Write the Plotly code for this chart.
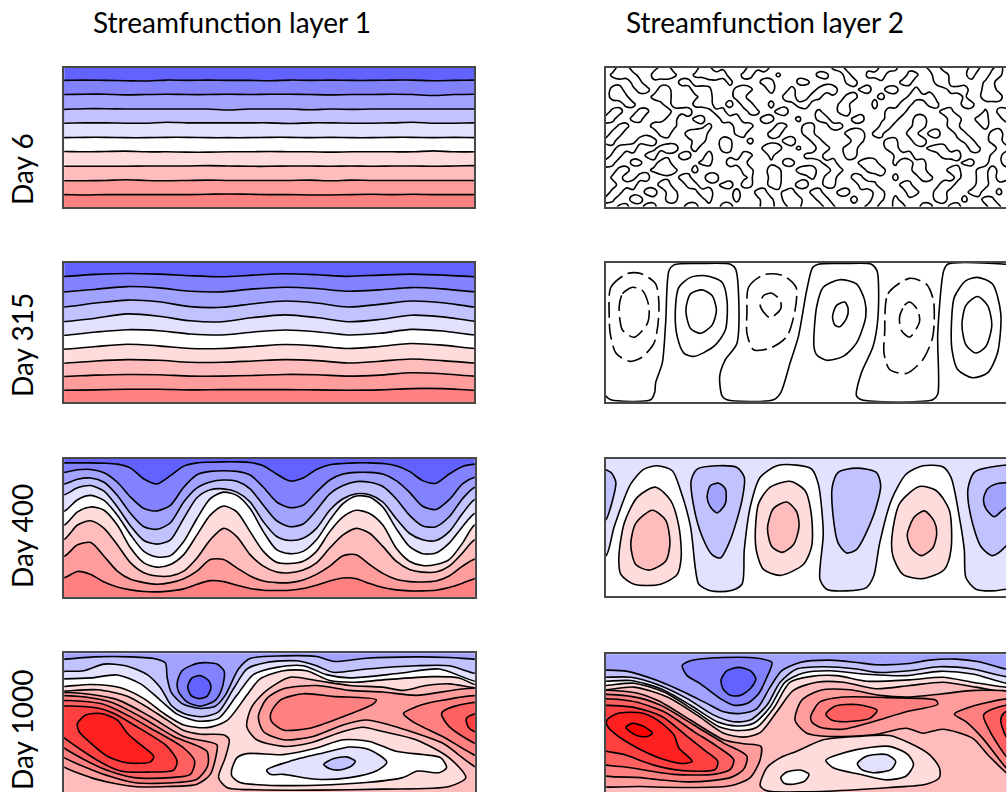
import plotly.graph_objects as go

W, H = 1007, 793
FONT = "Lato"
TITLES = ["Streamfunction layer 1", "Streamfunction layer 2"]
DAYS = ["Day 6", "Day 315", "Day 400", "Day 1000"]
BAND = {-5: "#6262ff", -4: "#8282ff", -3: "#a2a2ff", -2: "#c2c2ff", -1: "#e2e2ff", 0: "#ffffff",
        1: "#ffdcdc", 2: "#ffbcbc", 3: "#ff9c9c", 4: "#ff8080", 5: "#ff6060", 6: "#ff4040",
        7: "#ff2020", 8: "#ff0000"}

# ---- Day 6, layer 1: contour depth per line
D6_L1_X = [190,252,314,375,437,499,561,623,684,746,808,870,932,993,1055,1117,1179,1241,1302,1364,1426]
D6_L1_LINES = [
 [89,88,89,90,91,88,89,88,89,89,90,88,89,88,89,89,88,88,90,89,88],
 [132,131,131,133,132,131,132,132,131,132,131,131,132,133,132,132,131,132,135,132,131],
 [177,175,175,176,176,176,176,176,179,176,176,176,178,176,177,176,176,176,176,176,176],
 [219,218,218,219,219,216,218,218,218,218,218,220,218,218,219,219,218,216,219,219,218],
 [263,262,262,263,263,262,262,263,263,263,262,262,263,262,263,263,262,262,263,262,263],
 [305,306,305,304,306,306,307,307,306,306,305,306,306,307,306,306,306,306,303,306,306],
 [350,350,350,350,349,349,349,348,349,350,350,349,349,350,349,350,349,349,350,349,348],
 [394,394,393,391,393,394,393,392,393,393,393,393,392,394,392,393,393,393,393,393,393],
 [436,437,436,436,436,436,436,435,434,435,436,436,437,437,436,435,436,435,436,436,436],
]
# ---- Day 315, layer 1
D315_L1_X = [190,285,380,475,570,665,760,855,950,1045,1140,1235,1330,1426]
D315_L1_LINES = [
 [677,671,668,670,675,678,673,669,672,677,673,670,673,678],
 [724,716,708,712,722,724,715,710,714,722,718,711,715,724],
 [770,758,749,754,769,771,760,752,758,770,762,752,757,770],
 [814,804,791,798,812,815,802,794,802,815,808,795,800,813],
 [856,846,839,842,852,855,846,840,845,855,850,838,843,855],
 [898,890,883,888,896,896,890,884,888,896,890,881,886,896],
 [941,934,930,932,938,938,934,930,933,940,935,928,933,940],
 [981,977,975,976,980,980,978,975,976,980,977,970,973,980],
 [1023,1022,1020,1020,1022,1021,1021,1021,1022,1023,1022,1018,1018,1023],
]
# ---- Day 400, layer 1
D400_L1_X = [40,80,120,160,200,240,280,320,360,400,440,480,520,560,600,640,680,720,760,800,840,880,920,960,1000,1040,1080,1120,1160,1200,1240,1277]
D400_L1_LINES = [
 [36,36,36,37,40,52,85,100,75,46,36,34,33,33,35,45,70,91,82,56,42,38,36,36,38,45,62,90,98,70,47,40],
 [65,57,56,66,95,140,175,182,165,110,72,62,60,62,73,110,155,172,165,125,88,70,65,65,70,90,125,168,178,148,100,80],
 [100,86,82,95,135,190,230,238,218,155,112,94,88,92,115,165,212,230,222,180,130,105,93,95,108,145,195,228,230,200,145,110],
 [133,112,105,122,170,228,272,283,270,205,142,118,115,125,155,215,260,272,265,235,180,145,130,133,155,205,250,270,272,245,190,147],
 [183,148,135,150,195,255,305,322,318,275,205,145,125,135,175,245,300,312,305,270,210,160,137,140,170,235,290,312,310,280,230,190],
 [225,185,170,180,225,295,340,353,345,315,255,195,167,185,245,305,338,342,335,305,245,200,180,190,225,295,335,348,345,330,280,225],
 [268,225,212,235,285,340,370,380,380,365,325,270,235,260,315,350,368,370,362,340,295,255,235,250,290,335,360,368,368,350,310,270],
 [320,285,278,320,365,390,400,405,400,388,365,330,330,355,380,395,400,400,392,375,350,318,315,345,372,390,397,398,395,380,350,328],
 [385,366,375,398,413,422,427,428,425,419,405,394,397,408,418,423,424,423,418,408,395,386,388,403,415,422,425,425,423,415,402,388],
]
# ---- Day 1000, layer 1
D1000_L1_OPEN = [
 (-2, [(40,625),(130,618),(240,618),(320,625),(345,637),(350,680),(362,725),(395,760),(450,775),(495,768),(525,735),(565,655),(600,623),(700,615),(800,617),(855,632),(950,622),(1100,618),(1200,620),(1277,625)]),
 (-1, [(40,662),(100,660),(160,640),(225,645),(290,672),(330,712),(362,765),(400,790),(455,800),(505,785),(550,715),(590,655),(650,635),(740,630),(800,645),(850,665),(950,655),(1100,645),(1200,645),(1277,668)]),
 (0, [(40,685),(120,682),(200,673),(270,700),(330,750),(380,792),(440,813),(505,805),(560,735),(610,672),(680,650),(760,645),(830,672),(900,682),(1050,668),(1170,655),(1277,692)]),
 (1, [(40,708),(120,702),(210,712),(280,745),(340,790),(400,825),(470,833),(530,812),(590,735),(630,685),(700,660),(770,660),(840,690),(920,695),(1000,688),(1150,678),(1230,682),(1277,702)]),
 (2, [(40,722),(140,718),(230,738),(320,790),(400,842),(450,853),(520,855),(537,870),(525,925),(505,985),(530,1015),(620,1022),(800,1023),(1000,1020),(1200,1012),(1250,985),(1200,925),(1100,870),(1000,845),(940,832),(880,845),(780,880),(700,890),(620,870),(590,830),(605,770),(650,720),(720,680),(800,690),(900,705),(1000,710),(1060,720),(1130,705),(1200,700),(1277,712)]),
]
D1000_L1_LOOPS = [
 (-4, [(380,700),(395,660),(445,637),(500,640),(522,662),(515,715),(495,750),(450,768),(410,755),(385,725)]),
 (-5, [(412,708),(425,682),(450,675),(475,690),(482,712),(470,738),(445,745),(422,735)]),
 (3, [(0,737),(190,745),(300,800),(400,860),(500,885),(500,905),(480,975),(440,1005),(350,1012),(250,1012),(120,985),(0,925)]),
 (3, [(625,800),(650,745),(700,715),(800,705),(900,720),(1000,725),(1100,735),(1310,722),(1310,965),(1180,880),(1100,850),(1020,825),(950,810),(880,825),(790,860),(700,870),(640,845)]),
 (4, [(662,790),(690,750),(760,730),(850,738),(980,748),(970,762),(880,800),(780,835),(700,840),(665,815)]),
 (4, [(1310,742),(1180,750),(1100,770),(1062,790),(1090,815),(1180,860),(1310,925)]),
 (5, [(1310,760),(1210,770),(1177,790),(1200,830),(1310,890)]),
 (6, [(1310,785),(1252,805),(1260,835),(1310,855)]),
 (4, [(0,745),(170,752),(270,800),(370,860),(470,905),(472,950),(440,990),(380,1000),(250,1000),(120,960),(0,895)]),
 (5, [(0,760),(150,760),(230,795),(300,835),(400,895),(433,935),(420,975),(360,985),(250,985),(150,955),(0,860)]),
 (6, [(0,775),(130,772),(190,790),(250,825),(350,890),(380,935),(370,962),(300,968),(210,965),(120,920),(0,825)]),
 (7, [(80,820),(105,795),(150,790),(200,810),(230,850),(270,885),(310,920),(300,937),(230,940),(170,920),(120,880),(85,845)]),
 (0, [(545,960),(560,925),(590,912),(700,915),(800,895),(880,870),(960,875),(1040,905),(1120,915),(1175,925),(1192,955),(1170,970),(1105,965),(1060,985),(950,1000),(800,1008),(650,1008),(570,1000),(545,980)]),
 (-1, [(650,962),(720,935),(820,910),(900,892),(960,900),(1012,938),(980,965),(900,985),(800,990),(700,975),(660,975)]),
 (-2, [(822,945),(850,928),(890,922),(917,935),(905,950),(870,962),(840,958)]),
]
# ---- Day 6, layer 2: streamfunction read on a coarse grid (single contour at 4.5)
D6_L2_FIELD = [
 "21780312670231860312097830120321068102317960213680231760381",
 "16897207986016798820770216103027602810679120760389203810870",
 "31207603120871023170213770216720310680213017702179301206701",
 "07813770871028960217860280271027891026802870170213689027820",
 "08960217890123780218702310790286031780137021687920316029780",
 "20176120381207790280870170237820316702170218702760218701320",
 "07802760318790127702176027801236026802132789021037701206078",
 "87017702167026701789012870136027701268013780178012790278028",
 "21670127986012370218970217602760387031207801377021860137120",
 "07802130780278930216701278012760310789076021760780176021790",
 "78012897021236802760270031790167021087013760288021036702780",
 "12789013789028021760210789026018802890132780123678031760178",
 "06702168031770280231760170210678021770213068902137980231670",
 "87017602780213670187902130770213780217980260187021036702870",
 "21780136897027012310770287017890177021679021378012870168078",
 "06802870231770197012360178021360780176023170237702180167087",
 "21789021780177023680760277018702760217960217702138902178021",
 "07702178067013890218017703680177027703167021870278012780170",
 "76018702167021370217023760778027702180276071302178017027602",
 "21670287021378021780213780376021760213670178027701780213760",
]
# ---- Day 315, layer 2
D315_L2_ZERO = [(44,440),(60,452),(180,452),(192,430),(195,400),(215,340),(225,220),(235,60),(250,42),(330,38),(420,40),(436,55),(440,280),(405,330),(388,380),(395,440),(410,452),(550,452),(572,430),(600,340),(625,260),(650,120),(668,50),(685,40),(760,38),(845,40),(862,60),(865,200),(850,290),(815,370),(800,440),(815,452),(1030,452),(1045,435),(1045,250),(1063,60),(1075,40),(1251,40)]
D315_L2_POS = [
 [(254,190),(265,110),(300,80),(345,75),(395,95),(410,150),(405,240),(370,290),(310,320),(280,310),(260,260)],
 [(286,180),(300,130),(335,118),(365,135),(378,180),(365,225),(330,250),(300,235)],
 [(672,290),(680,170),(700,110),(750,87),(800,100),(825,150),(828,200),(800,280),(760,320),(710,332),(680,315)],
 [(728,200),(740,165),(765,155),(775,175),(770,205),(750,230),(735,225)],
 [(1086,230),(1095,140),(1130,90),(1165,80),(1210,100),(1235,190),(1225,310),(1195,370),(1150,385),(1105,360),(1088,300)],
 [(1118,225),(1130,165),(1165,138),(1195,165),(1208,225),(1190,290),(1160,310),(1130,285)],
]
D315_L2_NEG = [
 [(55,200),(60,110),(110,68),(150,68),(195,100),(205,180),(190,280),(150,325),(115,335),(75,310),(58,250)],
 [(85,170),(95,130),(125,110),(155,120),(175,170),(170,220),(130,262),(95,240)],
 [(470,190),(475,110),(520,72),(580,75),(618,110),(615,180),(590,260),(540,295),(490,300),(470,250)],
 [(510,165),(520,135),(545,128),(570,150),(572,175),(540,203),(520,185)],
 [(885,250),(895,130),(960,83),(1010,100),(1032,150),(1030,260),(1000,330),(950,372),(900,360),(883,310)],
 [(930,200),(945,165),(960,155),(985,180),(990,215),(960,262),(935,240)],
]
# ---- Day 400, layer 2
D400_L2_OPEN = [
 (0, [(44,920),(70,830),(120,700),(160,655),(200,645),(245,660),(270,720),(300,830),(315,960),(325,1005),(360,1025),(420,1025),(455,1005),(462,900),(480,770),(510,680),(560,645),(620,643),(665,655),(685,700),(700,850),(690,990),(710,1020),(770,1025),(830,1015),(852,980),(870,880),(905,750),(950,670),(1000,645),(1060,648),(1085,680),(1110,800),(1125,900),(1130,985),(1160,1020),(1210,1025),(1251,1020)]),
]
D400_L2_LOOPS = [
 (-2, [(30,655),(60,665),(75,695),(65,750),(44,810),(30,810)]),
 (-2, [(302,690),(320,655),(380,645),(440,650),(462,680),(455,750),(420,870),(390,925),(365,915),(335,860),(310,770)]),
 (-2, [(727,710),(745,665),(800,652),(860,665),(873,705),(850,800),(800,900),(770,910),(745,880),(730,800)]),
 (-2, [(1136,715),(1155,665),(1210,648),(1290,648),(1290,830),(1250,890),(1210,918),(1175,890),(1145,800)]),
 (-3, [(350,740),(360,705),(385,698),(405,715),(405,760),(380,788),(360,770)]),
 (-3, [(1183,745),(1195,715),(1220,700),(1290,700),(1290,740),(1240,780),(1215,800),(1190,775)]),
 (1, [(84,925),(100,820),(140,740),(195,710),(240,750),(265,830),(272,920),(260,975),(210,1005),(130,1005),(90,975)]),
 (1, [(495,860),(505,760),(540,710),(600,692),(645,720),(665,800),(665,890),(640,945),(570,978),(520,960),(500,910)]),
 (1, [(907,860),(930,760),(990,708),(1040,720),(1080,780),(1085,900),(1065,960),(1000,988),(940,975),(910,920)]),
 (2, [(120,885),(135,820),(185,780),(225,810),(238,880),(225,935),(175,962),(135,945)]),
 (2, [(532,835),(550,775),(590,755),(620,785),(627,830),(610,885),(575,908),(545,890)]),
 (2, [(953,855),(975,800),(1005,782),(1035,815),(1042,850),(1030,895),(995,918),(965,895)]),
]
# ---- Day 1000, layer 2
D1000_L2_OPEN = [
 (-2, [(44,88),(110,92),(200,120),(280,155),(350,190),(400,215),(450,220),(500,205),(540,140),(575,90),(630,65),(720,58),(800,65),(860,72),(960,68),(1020,58),(1100,55),(1170,63),(1251,85)]),
 (-1, [(44,110),(120,110),(200,132),(290,175),(370,225),(430,245),(480,240),(530,195),(570,125),(620,85),(700,78),(800,85),(860,95),(960,90),(1050,78),(1150,85),(1251,108)]),
 (0, [(44,122),(120,120),(210,145),(300,195),(380,245),(440,258),(490,250),(540,200),(585,125),(640,97),(720,90),(820,100),(950,105),(1050,92),(1150,100),(1251,128)]),
 (1, [(44,135),(130,128),(220,155),(310,210),(390,262),(450,272),(500,262),(550,205),(600,125),(660,108),(740,105),(830,122),(960,118),(1060,110),(1150,125),(1251,140)]),
 (2, [(44,148),(130,140),(230,170),(320,225),(400,280),(460,292),(510,278),(560,215),(610,150),(680,125),(760,125),(860,145),(960,135),(1060,125),(1160,140),(1251,155)]),
]
D1000_L2_LOOPS = [
 (-4, [(275,75),(300,60),(400,50),(500,52),(545,65),(530,110),(505,160),(470,190),(430,195),(390,175),(330,130),(290,105)]),
 (-5, [(392,118),(410,90),(445,80),(480,90),(497,115),(480,145),(450,165),(420,165),(398,145)]),
 (3, [(0,160),(120,155),(200,180),(300,240),(400,300),(460,312),(512,320),(510,360),(480,415),(420,440),(300,445),(150,442),(0,430)]),
 (4, [(0,172),(120,168),(210,195),(310,255),(400,310),(470,350),(460,390),(420,415),(300,428),(150,415),(0,395)]),
 (5, [(0,185),(120,182),(220,215),(310,275),(380,320),(430,360),(420,390),(370,405),(250,405),(120,385),(0,360)]),
 (6, [(0,205),(120,200),(215,230),(290,290),(340,330),(382,365),(375,390),(300,395),(200,380),(100,345),(0,318)]),
 (7, [(48,240),(80,220),(150,218),(200,240),(250,285),(265,325),(305,365),(280,372),(220,360),(140,325),(70,280),(48,255)]),
 (8, [(105,262),(125,250),(160,260),(185,280),(170,290),(140,288)]),
 (3, [(615,240),(635,180),(690,150),(780,148),(870,165),(960,170),(1060,160),(1160,150),(1290,165),(1290,425),(1200,350),(1150,295),(1060,268),(1000,280),(950,265),(850,285),(720,290),(650,280)]),
 (4, [(662,230),(690,185),(760,170),(900,172),(1040,180),(1045,192),(950,215),(850,245),(760,268),(690,262),(665,245)]),
 (5, [(708,222),(735,198),(800,193),(862,210),(840,235),(770,245),(725,240)]),
 (4, [(1290,180),(1180,190),(1095,222),(1130,245),(1180,295),(1251,385),(1290,420)]),
 (5, [(1290,195),(1215,205),(1183,225),(1200,270),(1251,350),(1290,385)]),
 (6, [(1290,210),(1245,218),(1235,240),(1251,290),(1290,325)]),
 (1, [(510,440),(530,385),(570,355),(620,335),(700,300),(800,290),(900,287),(960,310),(1020,345),(1050,385),(1050,415),(1010,435),(900,445),(800,452),(650,458),(530,455)]),
 (0, [(708,362),(800,330),(900,320),(955,345),(972,375),(950,410),(890,422),(810,405),(730,385)]),
 (-1, [(803,372),(830,350),(890,345),(918,365),(905,390),(850,400),(815,390)]),
 (0, [(572,415),(590,398),(630,392),(657,405),(645,425),(610,435),(582,432)]),
]

# panel frames: image origin, x range, y range (3 units per pixel)
PANELS = {
 1: dict(o=(0,50), xr=(190,1426), yr=(50,474)),
 2: dict(o=(590,50), xr=(44,1251), yr=(50,473)),
 3: dict(o=(0,50), xr=(190,1426), yr=(636,1058)),
 4: dict(o=(590,250), xr=(44,1251), yr=(36,458)),
 5: dict(o=(50,450), xr=(40,1277), yr=(24,443)),
 6: dict(o=(590,250), xr=(44,1251), yr=(624,1042)),
 7: dict(o=(50,450), xr=(40,1277), yr=(607,1029)),
 8: dict(o=(590,640), xr=(44,1251), yr=(40,459)),
}
INSET = 0.9
LINE = dict(color="black", width=1.6, shape="spline", smoothing=0.75)
fig = go.Figure()
layout = {}
for k, p in PANELS.items():
    ox, oy = p["o"]; xr, yr = p["xr"], p["yr"]
    left = k % 2 == 1
    bottom = k >= 7
    ax = dict(range=list(xr), domain=[(ox + xr[0]/3 + INSET)/W, min(1, (ox + xr[1]/3 - INSET)/W)], showgrid=False, zeroline=False,
              showticklabels=False, ticks="", showline=True, linecolor="#484848", linewidth=1.8,
              mirror=not bottom, side="top" if bottom else "bottom", anchor=f"y{k}")
    ay = dict(range=[yr[1], yr[0]], domain=[max(0, 1-(oy + yr[1]/3 - INSET)/H), 1-(oy + yr[0]/3 + INSET)/H], showgrid=False, zeroline=False,
              showticklabels=False, ticks="", showline=True, linecolor="#484848", linewidth=1.8,
              mirror=left, anchor=f"x{k}")
    layout[f"xaxis{k}"] = ax
    layout[f"yaxis{k}"] = ay

def bg(k, n):
    xr, yr = PANELS[k]["xr"], PANELS[k]["yr"]
    fig.add_trace(go.Scatter(x=[xr[0]-50, xr[1]+50, xr[1]+50, xr[0]-50], y=[yr[0]-50, yr[0]-50, yr[1]+150, yr[1]+150],
                             mode="lines", fill="toself", fillcolor=BAND[n], line=dict(width=0),
                             xaxis=f"x{k}", yaxis=f"y{k}", hoverinfo="skip", showlegend=False))

def below(k, xs, ys, n):
    xr, yr = PANELS[k]["xr"], PANELS[k]["yr"]
    X = [xr[0]-40] + list(xs) + [xr[1]+40, xr[1]+40, xr[0]-40]
    Y = [ys[0]] + list(ys) + [ys[-1], yr[1]+200, yr[1]+200]
    fig.add_trace(go.Scatter(x=X, y=Y, mode="lines", fill="toself", fillcolor=BAND[n], line=LINE,
                             xaxis=f"x{k}", yaxis=f"y{k}", hoverinfo="skip", showlegend=False))

def loop(k, pts, n=None, dash="solid"):
    X = [a for a, _ in pts] + [pts[0][0]]
    Y = [b for _, b in pts] + [pts[0][1]]
    kw = dict(fill="toself", fillcolor=BAND[n]) if n is not None else {}
    fig.add_trace(go.Scatter(x=X, y=Y, mode="lines", line=dict(LINE, dash=dash), xaxis=f"x{k}", yaxis=f"y{k}",
                             hoverinfo="skip", showlegend=False, **kw))

# Day 6 / 315 / 400 layer 1
for k, xs, lines in [(1, D6_L1_X, D6_L1_LINES), (3, D315_L1_X, D315_L1_LINES), (5, D400_L1_X, D400_L1_LINES)]:
    bg(k, -5)
    for i, ys in enumerate(lines):
        below(k, xs, ys, -4 + i)
# Day 1000 layer 1 and 2, Day 400 layer 2
for k, base, opens, loops in [(7, -3, D1000_L1_OPEN, D1000_L1_LOOPS), (8, -3, D1000_L2_OPEN, D1000_L2_LOOPS), (6, -1, D400_L2_OPEN, D400_L2_LOOPS)]:
    bg(k, base)
    for n, pts in opens:
        below(k, [a for a, _ in pts], [b for _, b in pts], n)
    for n, pts in loops:
        loop(k, pts, n)
# Day 6 layer 2
xr, yr = PANELS[2]["xr"], PANELS[2]["yr"]
ncol, nrow = len(D6_L2_FIELD[0]), len(D6_L2_FIELD)
gx = [xr[0] + (xr[1]-xr[0])*i/(ncol-1) for i in range(ncol)]
gy = [yr[0] + (yr[1]-yr[0])*j/(nrow-1) for j in range(nrow)]
z = [[int(c) for c in r.ljust(ncol, "0")[:ncol]] for r in D6_L2_FIELD]
fig.add_trace(go.Contour(x=gx, y=gy, z=z, xaxis="x2", yaxis="y2", showscale=False, hoverinfo="skip",
                         contours=dict(start=4.5, end=4.5, size=1, coloring="none"),
                         line=dict(color="black", width=1.6, smoothing=1.3)))
# Day 315 layer 2
Z = D315_L2_ZERO
fig.add_trace(go.Scatter(x=[a for a, _ in Z], y=[b for _, b in Z], mode="lines", line=LINE, xaxis="x4", yaxis="y4",
                         hoverinfo="skip", showlegend=False))
for pts in D315_L2_POS:
    loop(4, pts)
for pts in D315_L2_NEG:
    loop(4, pts, dash="16px,6px")

ann = []
for txt, xc in zip(TITLES, (231.5, 764.5)):
    ann.append(dict(text=txt, x=xc/W, y=1-22/H, xref="paper", yref="paper", showarrow=False,
                    font=dict(family=FONT, size=28, color="black"), xanchor="center", yanchor="middle"))
for txt, yc in zip(DAYS, (169, 345, 536, 730)):
    ann.append(dict(text=txt, x=22/W, y=1-yc/H, xref="paper", yref="paper", showarrow=False, textangle=-90,
                    font=dict(family=FONT, size=28, color="black"), xanchor="center", yanchor="middle"))

fig.update_layout(width=W, height=H, margin=dict(l=0, r=0, t=0, b=0), paper_bgcolor="white", plot_bgcolor="white",
                  showlegend=False, annotations=ann, **layout)
fig.write_html("out.html", config=dict(displayModeBar=False),
               post_script="document.body.style.margin='0';document.body.style.overflow='hidden';")
